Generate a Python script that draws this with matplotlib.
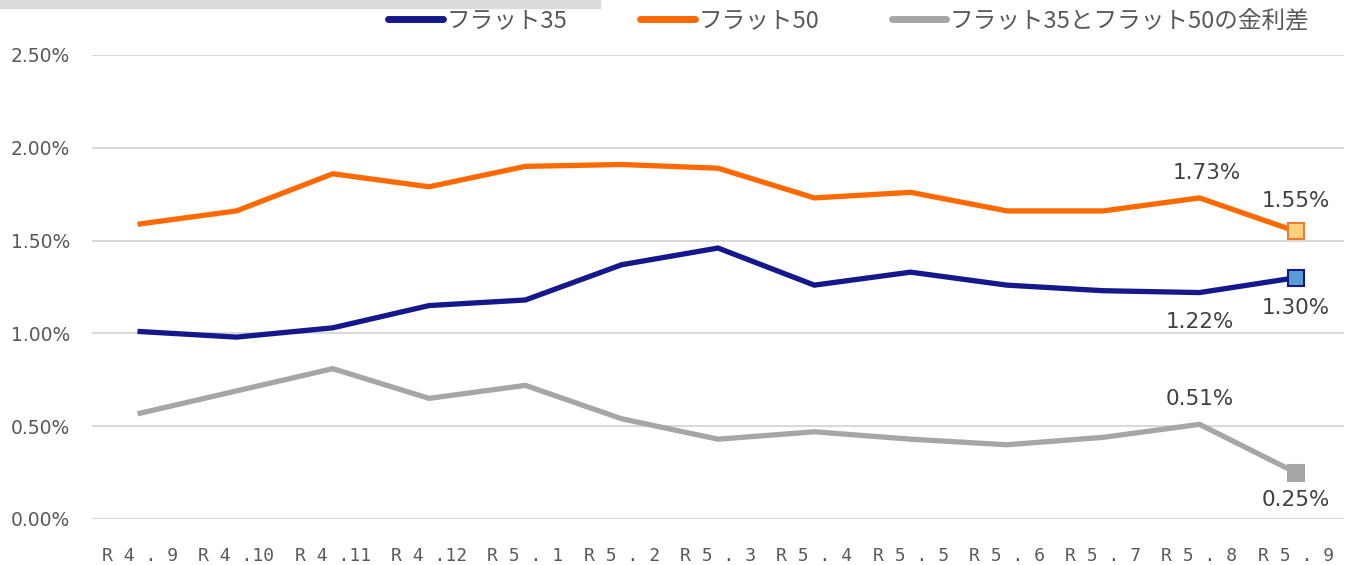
import matplotlib
matplotlib.use("Agg")
import matplotlib.pyplot as plt
from matplotlib.lines import Line2D

plt.rcParams['font.family'] = ['Noto Sans CJK JP', 'DejaVu Sans']

categories = ["R4.9", "R4.10", "R4.11", "R4.12", "R5.1", "R5.2", "R5.3",
              "R5.4", "R5.5", "R5.6", "R5.7", "R5.8", "R5.9"]
tick_labels = ["R 4 . 9", "R 4 .10", "R 4 .11", "R 4 .12", "R 5 . 1", "R 5 . 2", "R 5 . 3",
               "R 5 . 4", "R 5 . 5", "R 5 . 6", "R 5 . 7", "R 5 . 8", "R 5 . 9"]
flat35 = [1.01, 0.98, 1.03, 1.15, 1.18, 1.37, 1.46, 1.26, 1.33, 1.26, 1.23, 1.22, 1.30]
flat50 = [1.59, 1.66, 1.86, 1.79, 1.90, 1.91, 1.89, 1.73, 1.76, 1.66, 1.66, 1.73, 1.55]
spread = [0.57, 0.69, 0.81, 0.65, 0.72, 0.54, 0.43, 0.47, 0.43, 0.40, 0.44, 0.51, 0.25]
yticks = [0.0, 0.5, 1.0, 1.5, 2.0, 2.5]
legend_labels = ["フラット35", "フラット50", "フラット35とフラット50の金利差"]

c35 = "#15188A"
c50 = "#FF6A00"
cgr = "#A6A6A6"
txt = "#595959"

fig = plt.figure(figsize=(13.46, 5.65), dpi=100)
ax = fig.add_axes([92/1346, 1-519/565, (1344-92)/1346, (519-55)/565])

x = list(range(len(categories)))
lw = 3.8
ax.plot(x, flat35, color=c35, lw=lw, solid_joinstyle='miter', zorder=3)
ax.plot(x, flat50, color=c50, lw=lw, solid_joinstyle='miter', zorder=3)
ax.plot(x, spread, color=cgr, lw=lw, solid_joinstyle='miter', zorder=3)

ms = 11
ax.plot(x[-1], flat35[-1], 's', ms=ms, mfc="#5B9BD5", mec=c35, mew=1.5, zorder=4)
ax.plot(x[-1], flat50[-1], 's', ms=ms, mfc="#FFD27F", mec="#ED7D31", mew=1.5, zorder=4)
ax.plot(x[-1], spread[-1], 's', ms=ms, mfc=cgr, mec=cgr, mew=1.5, zorder=4)

fs = 15.5
def lab(i, v, above, dy, dx=0):
    ax.annotate(f"{v:.2f}%", (i, v), xytext=(dx, dy),
                textcoords='offset points', ha='center', va='center',
                fontsize=fs, color="#404040", family=['DejaVu Sans'])

lab(11, flat50[11], True, 18, 5)
lab(12, flat50[12], True, 22)
lab(11, flat35[11], False, -21)
lab(12, flat35[12], False, -22)
lab(11, spread[11], True, 18)
lab(12, spread[12], False, -20)

ax.set_xlim(-0.5, len(categories) - 0.5)
ax.set_ylim(0, 2.5)
ax.set_yticks(yticks)
ax.set_yticklabels([f"{v:.2f}%" for v in yticks], fontsize=13.5, color=txt,
                   family=['DejaVu Sans'])
ax.set_xticks(x)
ax.set_xticklabels(tick_labels, fontsize=13, color=txt, family=['DejaVu Sans Mono'])
ax.tick_params(axis='both', length=0)
ax.tick_params(axis='x', pad=20)
ax.tick_params(axis='y', pad=16)
ax.grid(axis='y', color="#D9D9D9", lw=1.5)
ax.set_axisbelow(True)
for s in ax.spines.values():
    s.set_visible(False)

handles = [Line2D([], [], color=c, lw=5, solid_capstyle='round') for c in (c35, c50, cgr)]
leg = fig.legend(handles, legend_labels, loc='center', bbox_to_anchor=(849/1346, 1-21/565),
                 ncol=3, frameon=False, fontsize=17, handlelength=2.3,
                 handletextpad=0.15, columnspacing=3.1, labelcolor=txt)

# faint shadow band at top-left
fig.patches.append(plt.Rectangle((0, 1-8/565), 600/1346, 8/565, transform=fig.transFigure,
                                 color="#DCDCDC", zorder=0))

fig.savefig("out.png", dpi=100)
